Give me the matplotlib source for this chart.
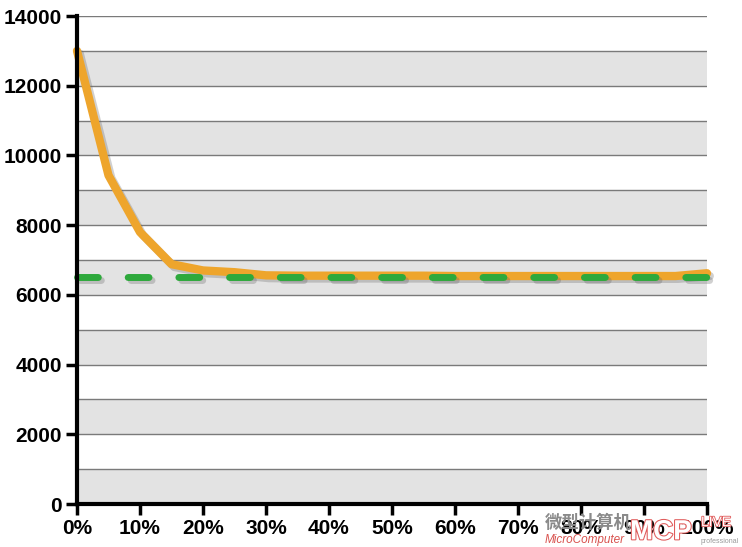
import matplotlib
matplotlib.use("Agg")
import matplotlib.pyplot as plt
import matplotlib.patheffects as pe

# data
x_pct = [0, 5, 10, 15, 20, 25, 30, 35, 40, 45, 50, 55, 60, 65, 70, 75, 80, 85, 90, 95, 100]
curve = [13000, 9430, 7800, 6880, 6700, 6650, 6560, 6550, 6550, 6550, 6550, 6550,
         6540, 6540, 6540, 6540, 6540, 6540, 6540, 6540, 6620]
baseline = [6500] * len(x_pct)
x_ticks = [0, 10, 20, 30, 40, 50, 60, 70, 80, 90, 100]
x_labels = [f"{t}%" for t in x_ticks]
y_ticks = [0, 2000, 4000, 6000, 8000, 10000, 12000, 14000]
grid_levels = list(range(0, 14001, 1000))

plt.rcParams["font.family"] = ["Liberation Sans", "Noto Sans CJK SC", "DejaVu Sans"]

fig = plt.figure(figsize=(7.42, 5.47), dpi=100)
ax = fig.add_axes([77 / 742, 1 - 504 / 547, 630 / 742, 488 / 547])

# alternating grey bands and grid lines
for lo in range(0, 14000, 2000):
    ax.axhspan(lo, lo + 1000, color="#e3e3e3", zorder=0, lw=0)
for g in grid_levels:
    ax.axhline(g, color="#7a7a7a", lw=1.0, zorder=1)

shadow = [pe.SimpleLineShadow(offset=(2, -2), shadow_color="#666666", alpha=0.3), pe.Normal()]
ax.plot(x_pct, curve, color="#eea52c", lw=6, solid_joinstyle="round",
        solid_capstyle="round", zorder=3, path_effects=shadow, clip_on=False)
ax.plot(x_pct, baseline, color="#2ea93c", lw=5, dashes=(3.0, 4.3),
        dash_capstyle="round", zorder=4, path_effects=shadow, clip_on=False)

ax.set_xlim(0, 100)
ax.set_ylim(0, 14000)
ax.set_xticks(x_ticks)
ax.set_xticklabels(x_labels)
ax.set_yticks(y_ticks)
ax.set_yticklabels([str(v) for v in y_ticks])
for lab in ax.get_xticklabels() + ax.get_yticklabels():
    lab.set_fontweight("bold")
    lab.set_fontsize(15)
ax.tick_params(axis="both", direction="out", length=8, width=2.5, color="black", pad=3)

for side in ("top", "right"):
    ax.spines[side].set_visible(False)
for side in ("left", "bottom"):
    ax.spines[side].set_linewidth(3)
    ax.spines[side].set_zorder(5)

# watermark (sits over the last tick labels, as in the original)
fig.text(545 / 742, 0.035, "微型计算机", fontsize=12.5, color="#8a8a8a", fontweight="bold",
         family=["Noto Sans CJK SC"], zorder=6)
fig.text(545 / 742, 0.008, "MicroComputer", fontsize=8.5, color="#d9534f", style="italic",
         zorder=6)
fig.text(630 / 742, 0.014, "MCP", fontsize=20, color="white", fontweight="bold",
         path_effects=[pe.withStroke(linewidth=1.5, foreground="#e05a5a")], zorder=5)
fig.text(701 / 742, 0.038, "LIVE", fontsize=10, color="white",
         path_effects=[pe.withStroke(linewidth=1.2, foreground="#e05a5a")], zorder=6)
fig.text(701 / 742, 0.008, "professional", fontsize=5, color="#999999", zorder=6)

fig.savefig("out.png", dpi=100)
